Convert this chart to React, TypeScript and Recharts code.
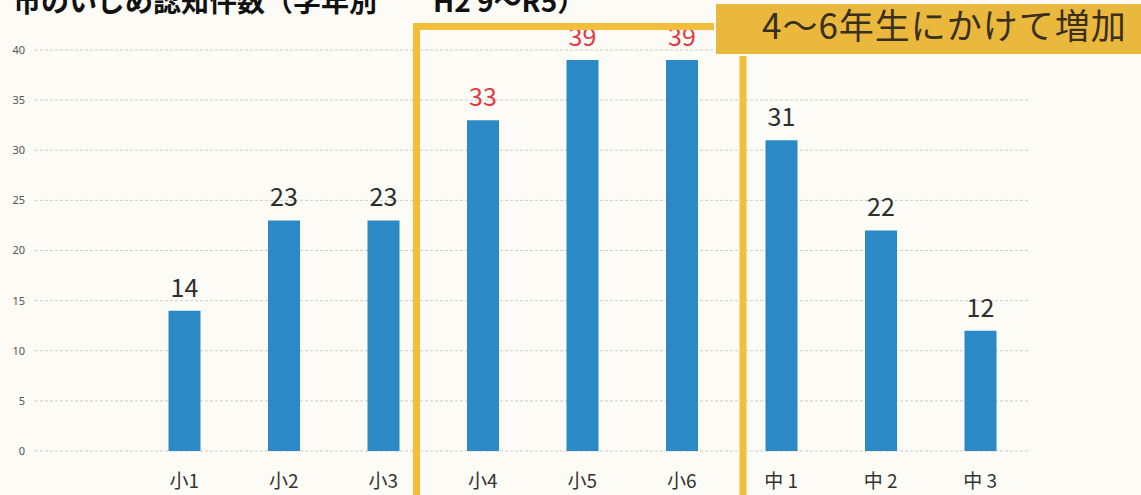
import React from 'react';
import { BarChart, Bar, XAxis, YAxis, CartesianGrid, LabelList } from 'recharts';

const grades = ['', '小1', '小2', '小3', '小4', '小5', '小6', '中 1', '中 2', '中 3'];
const counts: (number | null)[] = [null, 14, 23, 23, 33, 39, 39, 31, 22, 12];
const highlighted = ['小4', '小5', '小6'];
const yTicks = [0, 5, 10, 15, 20, 25, 30, 35, 40];
const titleText = '市のいじめ認知件数（学年別　　H2 9～R5）';
const calloutText = '4～6年生にかけて増加';

const data = grades.map((g, i) => {
  const hi = highlighted.includes(g);
  return {
    grade: g,
    normal: hi ? null : counts[i],
    hi: hi ? counts[i] : null,
  };
});

const W = 1141;
const H = 495;
const JP = '"Noto Sans CJK JP", "Noto Sans", sans-serif';

const makeLabel = (color: string) => (props: any) => {
  const { x, y, width, value } = props;
  if (value === null || value === undefined) return null;
  return (
    <text
      x={Number(x) + Number(width) / 2}
      y={Number(y) - 14}
      textAnchor="middle"
      fontSize={25}
      fontFamily={JP}
      fill={color}
    >
      {value}
    </text>
  );
};

export default function App() {
  return (
    <div
      style={{
        position: 'absolute',
        left: 0,
        top: 0,
        width: W,
        height: H,
        background: '#fcfbf5',
        overflow: 'hidden',
      }}
    >
      <BarChart
        width={W}
        height={H}
        data={data}
        margin={{ top: 50, right: 111, bottom: 0, left: 0 }}
        barCategoryGap={0}
      >
        <CartesianGrid vertical={false} stroke="#cdcdcd" strokeDasharray="3 2" />
        <XAxis
          dataKey="grade"
          interval={0}
          height={44}
          axisLine={false}
          tickLine={false}
          tickSize={0}
          tickMargin={24}
          tick={{ fontSize: 19, fill: '#333', fontFamily: JP }}
        />
        <YAxis
          domain={[0, 40]}
          ticks={yTicks}
          width={35}
          axisLine={false}
          tickLine={false}
          tickSize={0}
          tickMargin={10}
          tick={{ fontSize: 11, fill: '#555', fontFamily: '"Noto Sans", sans-serif' }}
        />
        <Bar dataKey="normal" stackId="a" fill="#2b8ac6" barSize={32} isAnimationActive={false}>
          <LabelList dataKey="normal" content={makeLabel('#2e2e2e')} />
        </Bar>
        <Bar dataKey="hi" stackId="a" fill="#2b8ac6" barSize={32} isAnimationActive={false}>
          <LabelList dataKey="hi" content={makeLabel('#e33a45')} />
        </Bar>
      </BarChart>
      <svg
        width={W}
        height={H}
        style={{ position: 'absolute', left: 0, top: 0, pointerEvents: 'none' }}
      >
        <path d="M416.5,505 V26.5 H743 V505" fill="none" stroke="#f2be3b" strokeWidth={7} />
        <rect x={715} y={3} width={440} height={52} fill="#eab83d" stroke="#fcfbf5" strokeWidth={2} />
        <text x={762} y={39} fontSize={35} letterSpacing={1} fontFamily={JP} fill="#3a2f1d">
          {calloutText}
        </text>
        <text x={13} y={12} fontSize={28} fontWeight="bold" fontFamily={JP} fill="#111">
          {titleText}
        </text>
      </svg>
    </div>
  );
}
